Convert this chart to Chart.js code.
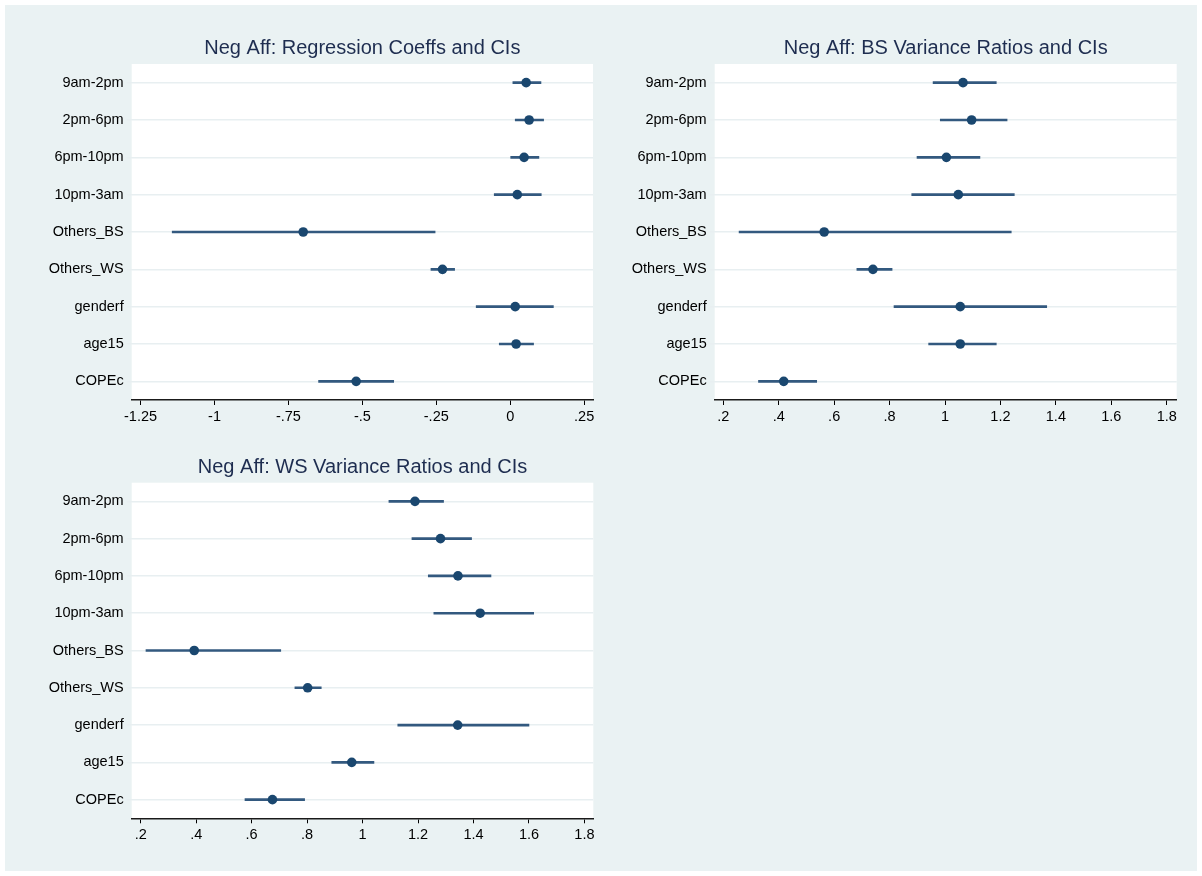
<!DOCTYPE html>
<html>
<head>
<meta charset="utf-8">
<script src="https://cdn.jsdelivr.net/npm/chart.js@4.4.1/dist/chart.umd.min.js"></script>
<style>
  html, body { margin: 0; padding: 0; background: #ffffff; }
  #bg { position: absolute; left: 5px; top: 5px; width: 1192px; height: 866px; background: #EAF2F3; }
  canvas { position: absolute; }
</style>
</head>
<body>
<div id="bg"></div>
<canvas id="c1" width="600" height="440" style="left:0px;top:0px;"></canvas>
<canvas id="c2" width="600" height="440" style="left:602px;top:0px;"></canvas>
<canvas id="c3" width="600" height="436" style="left:0px;top:440px;"></canvas>
<script>
// ---- data ----
const categories = ['9am-2pm', '2pm-6pm', '6pm-10pm', '10pm-3am', 'Others_BS', 'Others_WS', 'genderf', 'age15', 'COPEc'];

const coefMean = [0.054, 0.064, 0.047, 0.024, -0.700, -0.229, 0.017, 0.020, -0.521];
const coefLo   = [0.009, 0.017, 0.000, -0.054, -1.143, -0.268, -0.115, -0.037, -0.648];
const coefHi   = [0.104, 0.113, 0.097, 0.105, -0.254, -0.188, 0.146, 0.079, -0.394];

const bsMean = [1.065, 1.096, 1.005, 1.048, 0.564, 0.740, 1.055, 1.055, 0.418];
const bsLo   = [0.957, 0.983, 0.899, 0.880, 0.257, 0.682, 0.816, 0.941, 0.327];
const bsHi   = [1.185, 1.224, 1.126, 1.250, 1.239, 0.809, 1.367, 1.185, 0.537];

const wsMean = [1.189, 1.281, 1.344, 1.424, 0.393, 0.802, 1.343, 0.961, 0.675];
const wsLo   = [1.095, 1.178, 1.237, 1.257, 0.219, 0.756, 1.127, 0.889, 0.576];
const wsHi   = [1.292, 1.393, 1.463, 1.617, 0.705, 0.851, 1.600, 1.041, 0.791];

const coefTickValues = [-1.25, -1, -0.75, -0.5, -0.25, 0, 0.25];
const coefTickLabels = ['-1.25', '-1', '-.75', '-.5', '-.25', '0', '.25'];
const ratioTickValues = [0.2, 0.4, 0.6, 0.8, 1, 1.2, 1.4, 1.6, 1.8];
const ratioTickLabels = ['.2', '.4', '.6', '.8', '1', '1.2', '1.4', '1.6', '1.8'];

const titles = ['Neg Aff: Regression Coeffs and CIs', 'Neg Aff: BS Variance Ratios and CIs', 'Neg Aff: WS Variance Ratios and CIs'];

// ---- styling ----
const FONT = 'Arial, "Liberation Sans", sans-serif';
const NAVY = '#1a476f';
const CI_COLOR = '#33597f';

const whiteArea = {
  id: 'whiteArea',
  beforeDraw(chart) {
    const a = chart.chartArea;
    const ctx = chart.ctx;
    ctx.save();
    ctx.fillStyle = '#ffffff';
    ctx.fillRect(a.left, a.top, a.right - a.left, a.bottom - a.top);
    ctx.restore();
  }
};

function makeChart(id, title, mean, lo, hi, tickVals, tickLabels, xmin, xmax, geo) {
  const ctx = document.getElementById(id);
  return new Chart(ctx, {
    type: 'bar',
    data: {
      labels: categories,
      datasets: [
        {
          type: 'line',
          data: categories.map((c, i) => ({ x: mean[i], y: c })),
          showLine: false,
          pointRadius: 4.8,
          pointHoverRadius: 4.8,
          pointBackgroundColor: NAVY,
          pointBorderColor: NAVY,
          pointBorderWidth: 0,
          order: 0
        },
        {
          type: 'bar',
          data: lo.map((v, i) => [v, hi[i]]),
          backgroundColor: CI_COLOR,
          borderWidth: 0,
          barThickness: 2,
          order: 1
        }
      ]
    },
    options: {
      indexAxis: 'y',
      responsive: false,
      animation: false,
      devicePixelRatio: 1,
      layout: { padding: { left: 0, right: geo.padRight, top: 0, bottom: 0 } },
      plugins: {
        legend: { display: false },
        tooltip: { enabled: false },
        title: {
          display: true,
          text: title,
          fullSize: false,
          color: '#1e2d50',
          font: { family: FONT, size: 20, weight: 'normal', lineHeight: 1.2 },
          padding: { top: geo.titleTop, bottom: geo.titleBottom }
        }
      },
      scales: {
        x: {
          type: 'linear',
          min: xmin,
          max: xmax,
          afterBuildTicks(scale) { scale.ticks = tickVals.map(v => ({ value: v })); },
          afterFit(scale) { scale.height = geo.xHeight; },
          grid: { drawOnChartArea: false, drawTicks: true, tickLength: 5, color: '#000000', lineWidth: 1 },
          border: { display: true, color: '#1a1a1a', width: 1.5 },
          ticks: {
            autoSkip: false,
            maxRotation: 0,
            padding: 3,
            color: '#000000',
            font: { family: FONT, size: 14.5 },
            callback(value) {
              const k = tickVals.findIndex(t => Math.abs(t - value) < 1e-9);
              return k >= 0 ? tickLabels[k] : '';
            }
          }
        },
        y: {
          type: 'category',
          offset: true,
          afterFit(scale) { scale.width = geo.yWidth; },
          grid: { offset: false, drawOnChartArea: true, drawTicks: true, tickLength: 5, color: '#e8eff1', lineWidth: 1.5 },
          border: { display: false },
          ticks: {
            autoSkip: false,
            padding: 3,
            color: '#000000',
            font: { family: FONT, size: 14.5 }
          }
        }
      }
    },
    plugins: [whiteArea]
  });
}

makeChart('c1', titles[0], coefMean, coefLo, coefHi, coefTickValues, coefTickLabels, -1.280, 0.280,
  { yWidth: 131.7, padRight: 7, xHeight: 40, titleTop: 36.8, titleBottom: 3.2 });
makeChart('c2', titles[1], bsMean, bsLo, bsHi, ratioTickValues, ratioTickLabels, 0.169, 1.836,
  { yWidth: 112.7, padRight: 25.3, xHeight: 40, titleTop: 36.8, titleBottom: 3.2 });
makeChart('c3', titles[2], wsMean, wsLo, wsHi, ratioTickValues, ratioTickLabels, 0.1675, 1.832,
  { yWidth: 131.7, padRight: 6.7, xHeight: 57.7, titleTop: 15.2, titleBottom: 3.5 });
</script>
</body>
</html>
